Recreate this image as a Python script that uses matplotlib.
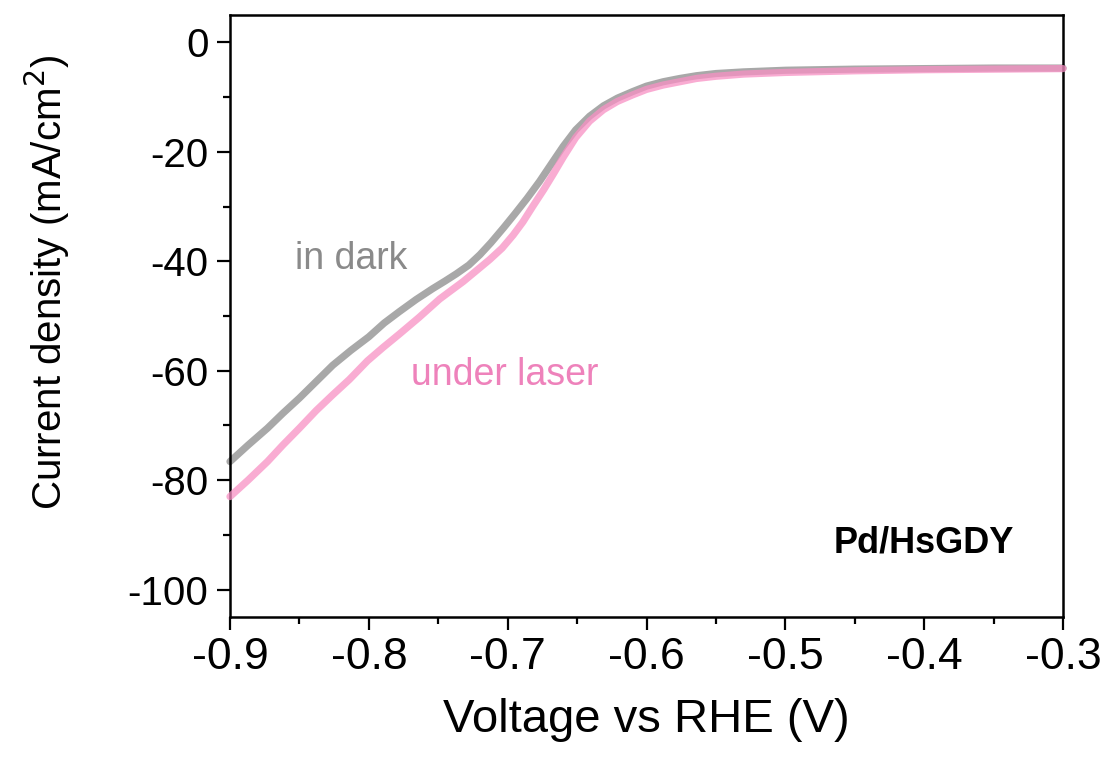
import matplotlib.pyplot as plt
from matplotlib.ticker import MultipleLocator

plt.rcParams['font.family'] = ['Liberation Sans', 'DejaVu Sans']
plt.rcParams['axes.unicode_minus'] = False

# in dark
v_dark = [-0.900, -0.887, -0.873, -0.862, -0.850, -0.838, -0.826, -0.813, -0.800,
          -0.789, -0.778, -0.766, -0.754, -0.745, -0.737, -0.728, -0.720, -0.712,
          -0.703, -0.695, -0.686, -0.677, -0.668, -0.660, -0.651, -0.641, -0.631,
          -0.621, -0.610, -0.600, -0.588, -0.576, -0.564, -0.550, -0.530, -0.500,
          -0.450, -0.400, -0.350, -0.300]
j_dark = [-76.6, -73.6, -70.5, -67.8, -65.0, -62.0, -59.0, -56.3, -53.8,
          -51.3, -49.2, -47.0, -45.0, -43.6, -42.3, -40.7, -38.8, -36.6,
          -33.9, -31.4, -28.5, -25.4, -22.0, -19.0, -16.0, -13.5, -11.6,
          -10.2, -9.0, -8.0, -7.2, -6.6, -6.1, -5.7, -5.4, -5.1,
          -4.9, -4.8, -4.7, -4.7]

# under laser
v_laser = [-0.900, -0.887, -0.873, -0.862, -0.850, -0.838, -0.826, -0.814, -0.801,
           -0.790, -0.778, -0.764, -0.749, -0.740, -0.732, -0.722, -0.713, -0.704,
           -0.696, -0.689, -0.682, -0.674, -0.667, -0.660, -0.651, -0.641, -0.631,
           -0.621, -0.610, -0.600, -0.588, -0.576, -0.564, -0.550, -0.530, -0.500,
           -0.450, -0.400, -0.350, -0.300]
j_laser = [-83.0, -80.0, -76.6, -73.6, -70.5, -67.3, -64.4, -61.6, -58.2,
           -55.8, -53.3, -50.3, -46.9, -45.2, -43.7, -41.6, -39.7, -37.6,
           -35.2, -32.8, -30.0, -26.9, -24.0, -21.0, -17.4, -14.4, -12.3,
           -10.8, -9.6, -8.6, -7.8, -7.2, -6.6, -6.2, -5.8, -5.5,
           -5.2, -5.0, -4.9, -4.8]

xticks = [-0.9, -0.8, -0.7, -0.6, -0.5, -0.4, -0.3]
yticks = [0, -20, -40, -60, -80, -100]

fig = plt.figure(figsize=(11.1, 7.64), dpi=100)
ax = fig.add_axes([0.2072, 0.1924, 0.9577 - 0.2072, 0.9804 - 0.1924])

ax.plot(v_dark, j_dark, color='#a8a8a8', lw=5.2, solid_capstyle='round',
        solid_joinstyle='round', clip_on=False, zorder=2)
ax.plot(v_laser, j_laser, color='#f890c4', alpha=0.75, lw=5.2, solid_capstyle='round',
        solid_joinstyle='round', clip_on=False, zorder=3)

ax.set_xlim(-0.9, -0.3)
ax.set_ylim(-105, 5)
ax.set_xticks(xticks)
ax.set_xticklabels([str(t) for t in xticks])
ax.set_yticks(yticks)
ax.xaxis.set_minor_locator(MultipleLocator(0.05))
ax.yaxis.set_minor_locator(MultipleLocator(10))

for s in ax.spines.values():
    s.set_linewidth(1.8)
ax.tick_params(which='major', direction='out', length=9.5, width=1.6, top=False, right=False)
ax.tick_params(which='minor', direction='out', length=5, width=1.6, top=False, right=False)
ax.tick_params(axis='x', which='major', labelsize=32, pad=5)
ax.tick_params(axis='y', which='major', labelsize=29, pad=6)

ax.set_xlabel('Voltage vs RHE (V)', fontsize=34, labelpad=14)
ax.set_ylabel('Current density (mA/cm$^2$)', fontsize=29)
ax.yaxis.set_label_coords(-0.19, 0.555)

ax.text(-0.813, -39.6, 'in dark', color='#8a8a8a', fontsize=27, ha='center', va='center')
ax.text(-0.702, -60.7, 'under laser', color='#ee82bb', fontsize=27, ha='center', va='center')
ax.text(-0.400, -91.4, 'Pd/HsGDY', color='black', fontsize=26, fontweight='bold',
        ha='center', va='center')

fig.savefig('out.png', dpi=100)
